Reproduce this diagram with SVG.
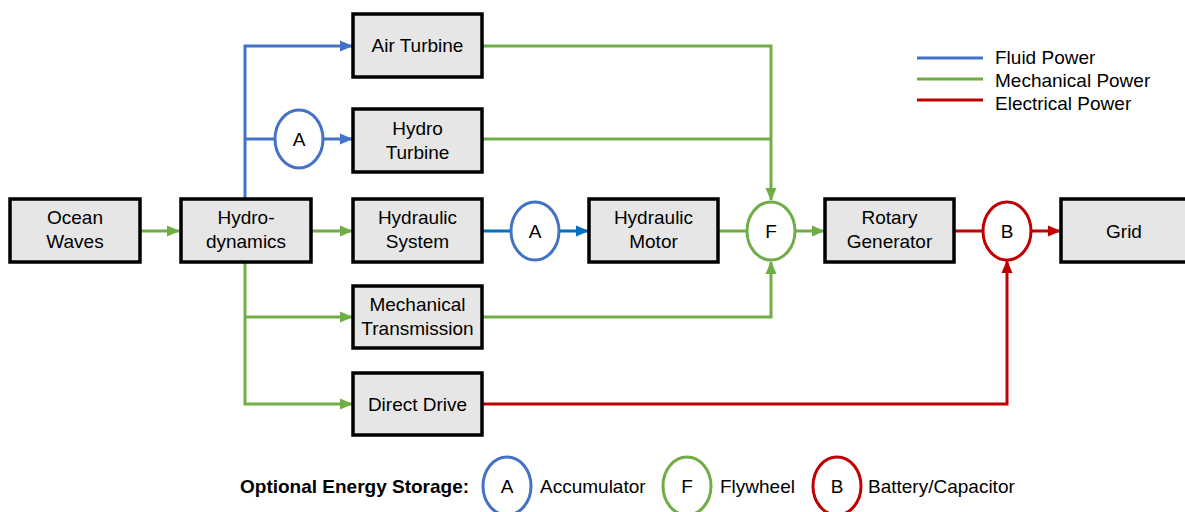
<svg xmlns="http://www.w3.org/2000/svg" width="1185" height="512" viewBox="0 0 1185 512">
<defs>
<style>
.box{fill:#e7e6e6;stroke:#000;stroke-width:3.5}
.t{font-family:"Liberation Sans",Arial,sans-serif;font-size:19px;fill:#000;text-anchor:middle}
.lt{font-family:"Liberation Sans",Arial,sans-serif;font-size:19px;fill:#000}
.b{stroke:#4472c4;stroke-width:3;fill:none}
.b2{stroke:#0070c0;stroke-width:3;fill:none}
.g{stroke:#70ad47;stroke-width:3;fill:none}
.r{stroke:#c00000;stroke-width:3;fill:none}
.cb{fill:#fff;stroke:#4472c4;stroke-width:3}
.cg{fill:#fff;stroke:#70ad47;stroke-width:3}
.cr{fill:#fff;stroke:#c00000;stroke-width:3}
</style>
<marker id="ab" markerUnits="userSpaceOnUse" markerWidth="13" markerHeight="13" viewBox="0 0 13 13" refX="12" refY="6.5" orient="auto"><path d="M0,1 L13,6.5 L0,12 Z" fill="#4472c4"/></marker>
<marker id="ab2" markerUnits="userSpaceOnUse" markerWidth="13" markerHeight="13" viewBox="0 0 13 13" refX="12" refY="6.5" orient="auto"><path d="M0,1 L13,6.5 L0,12 Z" fill="#0070c0"/></marker>
<marker id="ag" markerUnits="userSpaceOnUse" markerWidth="13" markerHeight="13" viewBox="0 0 13 13" refX="12" refY="6.5" orient="auto"><path d="M0,1 L13,6.5 L0,12 Z" fill="#70ad47"/></marker>
<marker id="ar" markerUnits="userSpaceOnUse" markerWidth="13" markerHeight="13" viewBox="0 0 13 13" refX="12" refY="6.5" orient="auto"><path d="M0,1 L13,6.5 L0,12 Z" fill="#c00000"/></marker>
</defs>
<rect width="1185" height="512" fill="#fff"/>
<g id="connectors">
<path class="b" d="M245,199 V46 H352" marker-end="url(#ab)"/>
<path class="b" d="M245,139 H276"/>
<path class="b" d="M322,139 H352" marker-end="url(#ab)"/>
<path class="g" d="M140,231 H179" marker-end="url(#ag)"/>
<path class="g" d="M311,231 H352" marker-end="url(#ag)"/>
<path class="b2" d="M482,231 H512"/>
<path class="b2" d="M558,231 H588" marker-end="url(#ab2)"/>
<path class="g" d="M718,231 H748"/>
<path class="g" d="M794,231 H824" marker-end="url(#ag)"/>
<path class="g" d="M482,46 H771 V200" marker-end="url(#ag)"/>
<path class="g" d="M482,139 H771"/>
<path class="g" d="M245,262 V404 H352" marker-end="url(#ag)"/>
<path class="g" d="M245,317 H352" marker-end="url(#ag)"/>
<path class="g" d="M482,317 H771 V262" marker-end="url(#ag)"/>
<path class="r" d="M954,231 H984"/>
<path class="r" d="M1030,231 H1060" marker-end="url(#ar)"/>
<path class="r" d="M482,404 H1007 V261" marker-end="url(#ar)"/>
</g>
<g id="ocean-waves"><rect class="box" x="10" y="199" width="130" height="63"/><text class="t" x="75" y="224">Ocean</text><text class="t" x="75" y="248">Waves</text></g>
<g id="hydrodynamics"><rect class="box" x="181" y="199" width="130" height="63"/><text class="t" x="246" y="224">Hydro-</text><text class="t" x="246" y="248">dynamics</text></g>
<g id="air-turbine"><rect class="box" x="353" y="14" width="129" height="63"/><text class="t" x="417.5" y="52">Air Turbine</text></g>
<g id="acc-hydro"><ellipse class="cb" cx="299" cy="139" rx="24" ry="29"/><text class="t" x="299" y="146">A</text></g>
<g id="hydro-turbine"><rect class="box" x="353" y="109" width="129" height="63"/><text class="t" x="417.5" y="135">Hydro</text><text class="t" x="417.5" y="159">Turbine</text></g>
<g id="hydraulic-system"><rect class="box" x="353" y="199" width="129" height="63"/><text class="t" x="417.5" y="224">Hydraulic</text><text class="t" x="417.5" y="248">System</text></g>
<g id="acc-hydraulic"><ellipse class="cb" cx="535" cy="231" rx="24" ry="29"/><text class="t" x="535" y="238">A</text></g>
<g id="hydraulic-motor"><rect class="box" x="589" y="199" width="129" height="63"/><text class="t" x="653.5" y="224">Hydraulic</text><text class="t" x="653.5" y="248">Motor</text></g>
<g id="flywheel"><ellipse class="cg" cx="771" cy="231" rx="24" ry="29"/><text class="t" x="771" y="238">F</text></g>
<g id="rotary-generator"><rect class="box" x="825" y="199" width="129" height="63"/><text class="t" x="889.5" y="224">Rotary</text><text class="t" x="889.5" y="248">Generator</text></g>
<g id="battery"><ellipse class="cr" cx="1007" cy="231" rx="24" ry="29"/><text class="t" x="1007" y="238">B</text></g>
<g id="grid"><rect class="box" x="1061" y="199" width="130" height="63"/><text class="t" x="1124" y="238">Grid</text></g>
<g id="mech-transmission"><rect class="box" x="353" y="286" width="129" height="62"/><text class="t" x="417.5" y="311">Mechanical</text><text class="t" x="417.5" y="335">Transmission</text></g>
<g id="direct-drive"><rect class="box" x="353" y="373" width="129" height="62"/><text class="t" x="417.5" y="411">Direct Drive</text></g>
<g id="legend">
<line x1="917" y1="58" x2="983" y2="58" stroke="#4472c4" stroke-width="3"/>
<line x1="917" y1="79" x2="983" y2="79" stroke="#70ad47" stroke-width="3"/>
<line x1="917" y1="100" x2="983" y2="100" stroke="#c00000" stroke-width="3"/>
<text class="lt" x="995" y="64">Fluid Power</text>
<text class="lt" x="995" y="87">Mechanical Power</text>
<text class="lt" x="995" y="110">Electrical Power</text>
</g>
<g id="storage-legend">
<text class="lt" x="240" y="493" style="font-weight:bold">Optional Energy Storage:</text>
<ellipse class="cb" cx="507" cy="486" rx="24" ry="29"/><text class="t" x="507" y="493">A</text>
<text class="lt" x="540" y="493">Accumulator</text>
<ellipse class="cg" cx="687" cy="486" rx="24" ry="29"/><text class="t" x="687" y="493">F</text>
<text class="lt" x="720" y="493">Flywheel</text>
<ellipse class="cr" cx="837" cy="486" rx="24" ry="29"/><text class="t" x="837" y="493">B</text>
<text class="lt" x="868" y="493">Battery/Capacitor</text>
</g>
</svg>
